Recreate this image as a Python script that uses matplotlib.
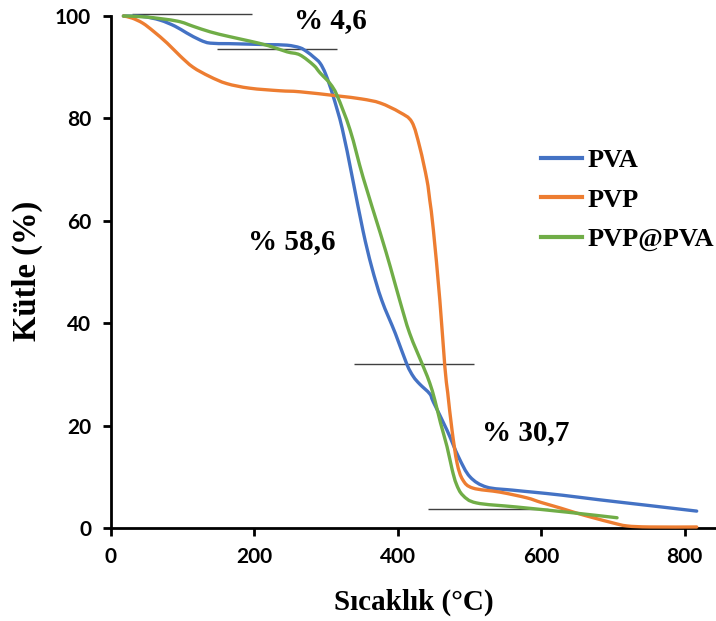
import matplotlib
matplotlib.use("Agg")
import matplotlib.pyplot as plt
from matplotlib.path import Path
from matplotlib.patches import PathPatch
from matplotlib.lines import Line2D

# ---- data ----
pva_x = [18, 45, 69, 90, 106, 125, 139, 165, 194, 220, 246, 264, 274, 283, 292, 300,
         310, 323, 337, 352, 364, 378, 397, 413, 422, 431, 445, 450, 469, 485, 501,
         524, 560, 589, 630, 682, 750, 817]
pva_y = [100, 99.9, 99.2, 98.0, 96.7, 95.3, 94.7, 94.6, 94.5, 94.4, 94.3, 93.8, 93.0, 92.0, 90.8, 88.6,
         84.5, 78.0, 68.5, 58.0, 51.0, 44.5, 38.0, 32.0, 29.6, 28.1, 26.2, 24.6, 19.1, 13.9, 10.0,
         8.0, 7.4, 7.0, 6.4, 5.5, 4.4, 3.3]

pvp_x = [18, 30, 45, 60, 79, 97, 115, 138, 162, 194, 236, 264, 316, 350, 376, 403, 420,
         431, 441, 445, 450, 459, 466, 470, 476, 483, 491, 505, 543, 580, 600, 627, 650,
         673, 700, 720, 752, 817]
pvp_y = [100, 99.6, 98.6, 97.0, 94.7, 92.2, 90.0, 88.2, 86.8, 85.9, 85.4, 85.2, 84.4, 83.8, 83.0, 81.2, 79.3,
         74.4, 68.0, 64.0, 58.2, 44.5, 31.5, 26.4, 19.1, 12.7, 9.4, 7.8, 7.0, 5.9, 5.0, 3.9, 2.9,
         2.0, 1.0, 0.4, 0.2, 0.2]

mix_x = [18, 50, 93, 115, 139, 165, 194, 220, 246, 264, 283, 292, 306, 316, 334,
         352, 376, 390, 403, 417, 436, 445, 452, 460, 469, 476, 482, 491, 510, 566, 636, 706]
mix_y = [100, 99.8, 99.0, 98.0, 96.9, 96.0, 95.1, 94.2, 93.0, 92.4, 90.4, 88.9, 86.8, 84.4, 77.7,
         68.5, 57.6, 51.0, 44.5, 38.0, 31.5, 28.3, 25.0, 20.5, 15.9, 11.5, 8.6, 6.4, 4.9, 4.1, 3.1, 2.0]

series_names = ["PVA", "PVP", "PVP@PVA"]
series_colors = ["#4472C4", "#ED7D31", "#70AD47"]

# reference (step) lines: (y, x_start, x_end)
ref_lines_y = [100.3, 93.6, 32.0, 3.7]
ref_lines_x0 = [30, 148, 340, 443]
ref_lines_x1 = [197, 316, 507, 610]

annot_texts = ["% 4,6", "% 58,6", "% 30,7"]
annot_x = [306, 253, 579]
annot_y = [99.2, 55.9, 18.7]

x_ticks = [0, 200, 400, 600, 800]
y_ticks = [0, 20, 40, 60, 80, 100]


def smooth_path(xs, ys, tension=1.0 / 6.0):
    """Bezier path through the data points (like Excel's smoothed line)."""
    n = len(xs)
    verts = [(xs[0], ys[0])]
    codes = [Path.MOVETO]
    for i in range(n - 1):
        x0, y0 = (xs[i - 1], ys[i - 1]) if i > 0 else (xs[i], ys[i])
        x1, y1 = xs[i], ys[i]
        x2, y2 = xs[i + 1], ys[i + 1]
        x3, y3 = (xs[i + 2], ys[i + 2]) if i + 2 < n else (x2, y2)
        c1 = (x1 + (x2 - x0) * tension, y1 + (y2 - y0) * tension)
        c2 = (x2 - (x3 - x1) * tension, y2 - (y3 - y1) * tension)
        verts += [c1, c2, (x2, y2)]
        codes += [Path.CURVE4] * 3
    return Path(verts, codes)


# ---- figure ----
W, H = 716, 621
fig = plt.figure(figsize=(W / 100, H / 100), dpi=100)
left = 110.5 / W
bottom = (H - 528) / H
top = (H - 16) / H
ax = fig.add_axes([left, bottom, 1 - left, top - bottom])

serif = ["Liberation Serif", "DejaVu Serif"]
tickfont = ["Lato", "DejaVu Sans"]

for y0, x0, x1 in zip(ref_lines_y, ref_lines_x0, ref_lines_x1):
    ax.plot([x0, x1], [y0, y0], color="#404040", lw=1.0, zorder=2,
            solid_capstyle="butt", clip_on=False)

handles = []
for xs, ys, name, c in zip([pva_x, pvp_x, mix_x], [pva_y, pvp_y, mix_y], series_names, series_colors):
    patch = PathPatch(smooth_path(xs, ys), facecolor="none", edgecolor=c, lw=2.4,
                      zorder=3, joinstyle="round", capstyle="round", clip_on=False)
    ax.add_patch(patch)
    handles.append(Line2D([], [], color=c, lw=3, label=name))

for t, x, y in zip(annot_texts, annot_x, annot_y):
    ax.text(x, y, t, ha="center", va="center", fontsize=21, fontweight="bold",
            family=serif, zorder=4)

ax.set_xlim(0, (W - 110.5) / 0.7175)
ax.set_ylim(0, 100)
ax.set_xticks(x_ticks)
ax.set_yticks(y_ticks)
for spine in ["top", "right"]:
    ax.spines[spine].set_visible(False)
for spine in ["left", "bottom"]:
    ax.spines[spine].set_linewidth(2)
ax.tick_params(direction="out", length=6, width=2, labelsize=15, pad=8)
for lab in ax.get_xticklabels() + ax.get_yticklabels():
    lab.set_fontweight("bold")
    lab.set_family(tickfont)

fig.text(414 / W, 1 - 602 / H, "Sıcaklık (°C)", ha="center", va="center",
         fontsize=21, fontweight="bold", family=serif)
fig.text(27 / W, 1 - 271 / H, "Kütle (%)", ha="center", va="center", rotation=90,
         fontsize=23.5, fontweight="bold", family=serif)

leg = ax.legend(handles=handles, loc="center left", bbox_to_anchor=(541 / W, 1 - 200 / H),
                bbox_transform=fig.transFigure, frameon=False, borderpad=0,
                borderaxespad=0, handlelength=1.55, handletextpad=0.2,
                labelspacing=0.6, prop={"family": serif, "weight": "bold", "size": 19})

fig.savefig("out.png", dpi=100)
